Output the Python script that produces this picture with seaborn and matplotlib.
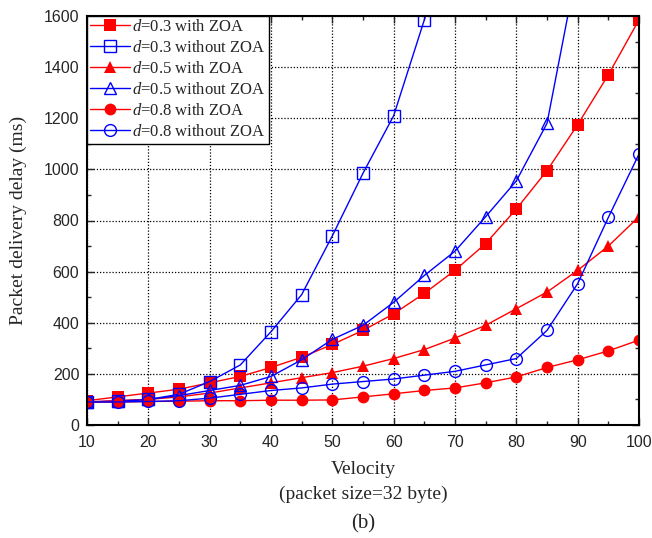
import matplotlib

matplotlib.use("Agg")
import matplotlib.pyplot as plt
import numpy as np
import pandas as pd
import seaborn as sns
from matplotlib.ticker import MultipleLocator

# velocity values (x axis)
velocity = [10, 15, 20, 25, 30, 35, 40, 45, 50, 55, 60, 65, 70, 75, 80, 85, 90, 95, 100]

# packet delivery delay (ms)
d03_zoa = [95, 110, 125, 140, 165, 190, 225, 265, 315, 370, 435, 515, 605, 710, 845, 995, 1175, 1370, 1585]
d03_nozoa = [90, 95, 100, 120, 170, 235, 365, 510, 740, 985, 1210, 1585, 2000]
d05_zoa = [90, 95, 100, 110, 125, 145, 165, 185, 205, 230, 260, 295, 340, 390, 455, 520, 605, 700, 815]
d05_nozoa = [90, 92, 100, 115, 135, 155, 190, 255, 335, 390, 480, 585, 680, 815, 955, 1180, 1800]
d08_zoa = [90, 90, 92, 93, 95, 95, 97, 97, 98, 110, 122, 135, 145, 165, 188, 225, 255, 290, 332]
d08_nozoa = [90, 90, 92, 95, 105, 120, 135, 145, 160, 170, 180, 195, 210, 235, 260, 370, 553, 812, 1060]

labels = [
    "$d$=0.3 with ZOA",
    "$d$=0.3 without ZOA",
    "$d$=0.5 with ZOA",
    "$d$=0.5 without ZOA",
    "$d$=0.8 with ZOA",
    "$d$=0.8 without ZOA",
]
series = [d03_zoa, d03_nozoa, d05_zoa, d05_nozoa, d08_zoa, d08_nozoa]
colors = ["#ff0000", "#0000ff", "#ff0000", "#0000ff", "#ff0000", "#0000ff"]
markers = ["s", "s", "^", "^", "o", "o"]
filled = [True, False, True, False, True, False]

sns.set_style("ticks")
plt.rcParams["font.family"] = ["Liberation Serif", "DejaVu Serif"]
plt.rcParams["mathtext.fontset"] = "custom"
plt.rcParams["mathtext.it"] = "Liberation Serif:italic"
plt.rcParams["mathtext.rm"] = "Liberation Serif"

fig = plt.figure(figsize=(6.52, 5.38), dpi=100)
ax = fig.add_axes([87 / 652, 1 - 425 / 538, (639 - 87) / 652, (425 - 16) / 538])

for vals, label, color, marker, fill in zip(series, labels, colors, markers, filled):
    df = pd.DataFrame({"Velocity": velocity[: len(vals)], "Delay": vals})
    sns.lineplot(
        data=df,
        x="Velocity",
        y="Delay",
        ax=ax,
        color=color,
        marker=marker,
        markersize=8.5,
        markerfacecolor=color if fill else "none",
        markeredgecolor=color,
        markeredgewidth=0 if fill else 1,
        linewidth=1,
        label=label,
        clip_on=True,
    )

ax.set_xlim(10, 100)
ax.set_ylim(0, 1600)
ax.xaxis.set_major_locator(MultipleLocator(10))
ax.xaxis.set_minor_locator(MultipleLocator(5))
ax.yaxis.set_major_locator(MultipleLocator(200))
ax.yaxis.set_minor_locator(MultipleLocator(100))
ax.grid(True, which="major", color="black", linestyle=(0, (1, 1.5)), linewidth=0.9)
ax.tick_params(which="both", direction="in", top=True, right=True, width=1)
ax.tick_params(which="major", length=5, labelsize=11.5)
ax.tick_params(which="minor", length=3)
ax.tick_params(axis="x", which="major", pad=7)
ax.tick_params(axis="y", which="major", pad=5.5)
for lab in ax.get_xticklabels() + ax.get_yticklabels():
    lab.set_fontfamily("Liberation Sans")
for spine in ax.spines.values():
    spine.set_linewidth(1.5)
    spine.set_color("black")

ax.set_ylabel("Packet delivery delay (ms)", fontsize=14, labelpad=12)
ax.set_xlabel("Velocity\n(packet size=32 byte)", fontsize=14, linespacing=1.6, labelpad=8)
fig.text(363 / 652, 1 - 524 / 538, "(b)", fontsize=15, ha="center", va="center")

leg = ax.legend(
    loc="upper left",
    borderaxespad=0,
    fontsize=12,
    handlelength=2.4,
    handletextpad=0.1,
    labelspacing=0.3,
    borderpad=0.2,
    frameon=True,
    fancybox=False,
    edgecolor="black",
    framealpha=1,
)
leg.get_frame().set_linewidth(1)

plt.savefig("out.png", dpi=100)
plt.close(fig)
